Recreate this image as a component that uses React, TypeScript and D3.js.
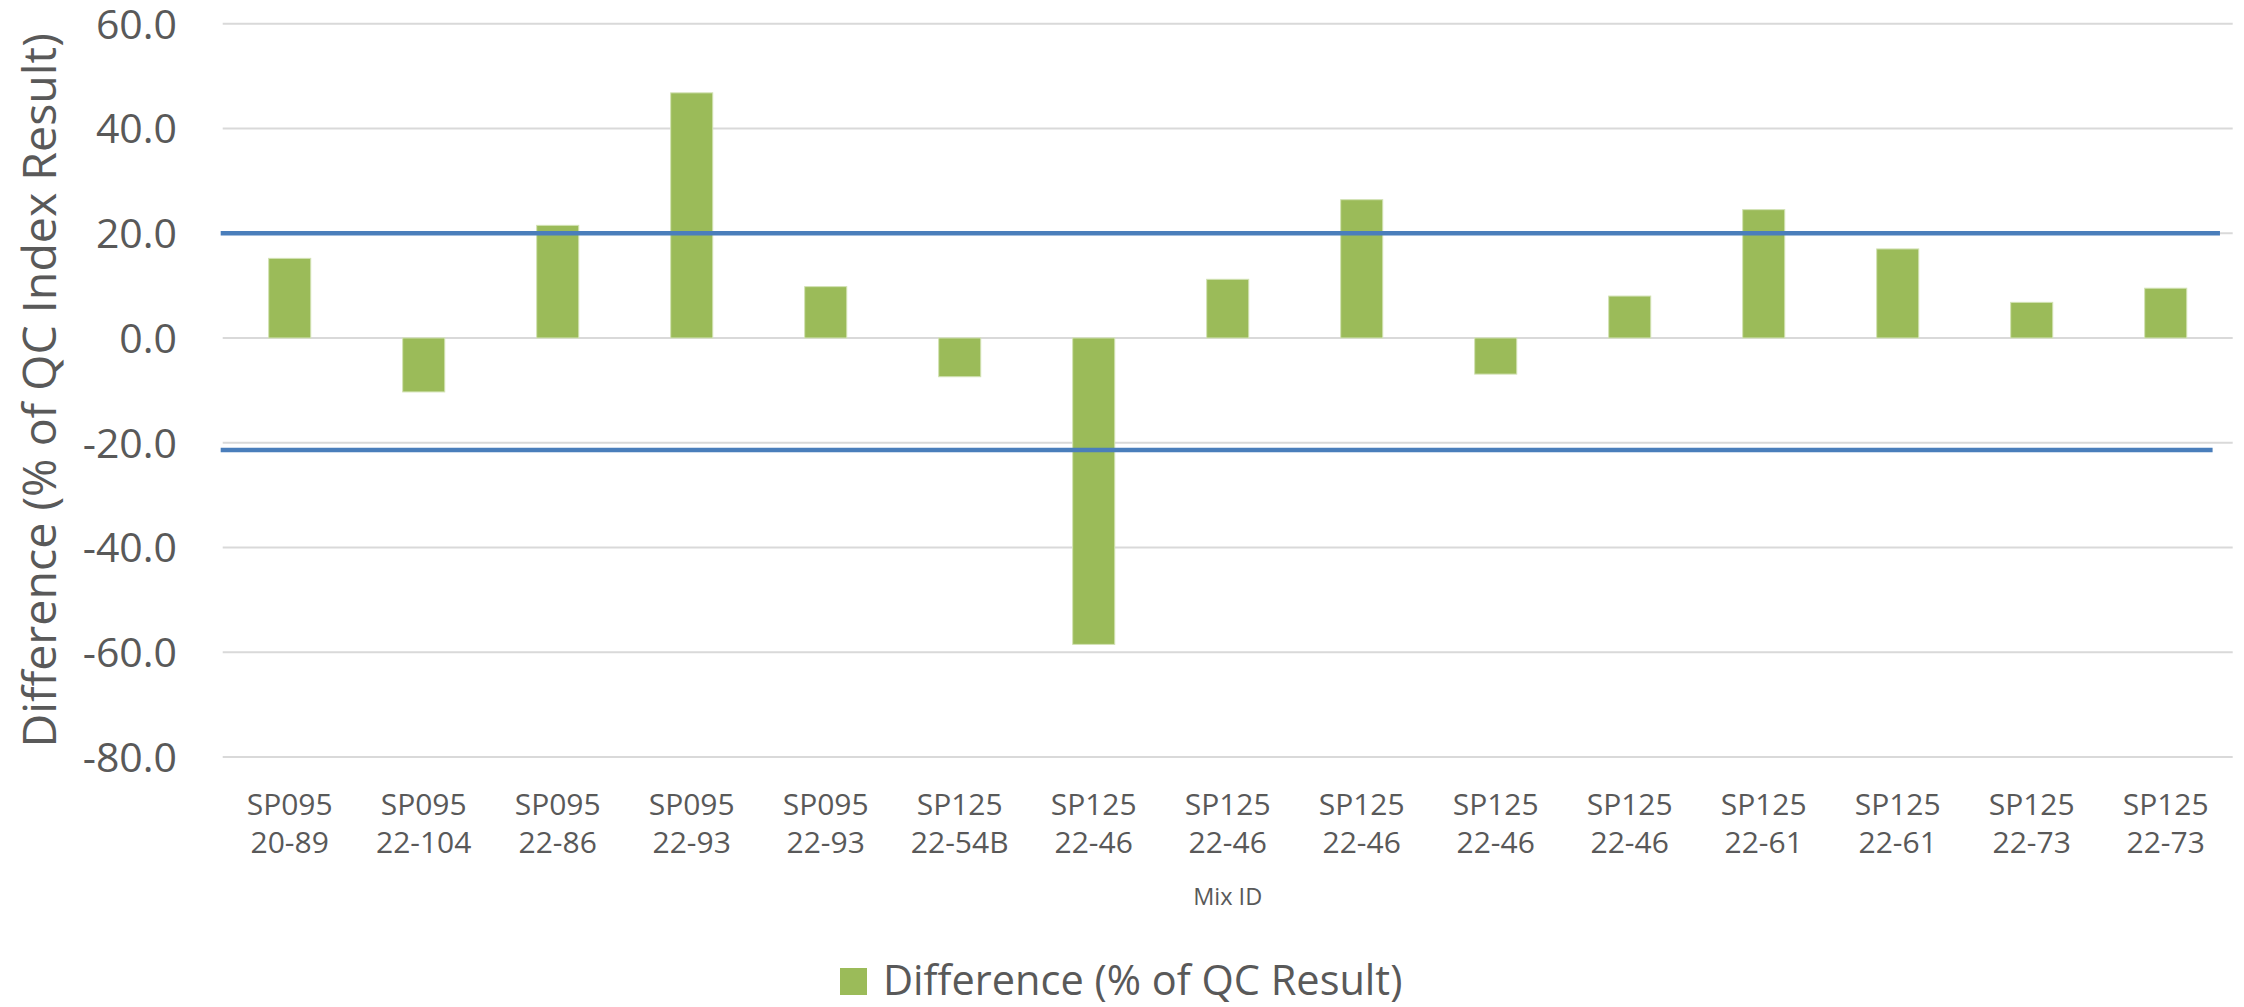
import React from "react";
import * as d3 from "d3";

// Mix identifiers (two-line category labels)
const mixProduct = [
  "SP095", "SP095", "SP095", "SP095", "SP095",
  "SP125", "SP125", "SP125", "SP125", "SP125",
  "SP125", "SP125", "SP125", "SP125", "SP125",
];
const mixBatch = [
  "20-89", "22-104", "22-86", "22-93", "22-93",
  "22-54B", "22-46", "22-46", "22-46", "22-46",
  "22-46", "22-61", "22-61", "22-73", "22-73",
];

// Difference (% of QC result) per mix
const differencePct = [
  15.2, -10.3, 21.5, 46.8, 9.8,
  -7.4, -58.5, 11.2, 26.4, -6.9,
  8.0, 24.5, 17.0, 6.8, 9.5,
];

// Y axis ticks
const yTicks = [-80, -60, -40, -20, 0, 20, 40, 60];

// Acceptance limit lines: value and extent in category units
const limitValues = [20.0, -21.4];
const limitStart = [-0.015, -0.015];
const limitEnd = [14.905, 14.85];

const W = 2244;
const H = 1007;
const FONT = "'Open Sans', 'Liberation Sans', sans-serif";
const TEXT = "#595959";

export default function App() {
  const plotLeft = 222.7;
  const plotRight = 2232.7;
  const plotTop = 23.7;
  const plotBottom = 757;

  const idx = differencePct.map((_, i) => String(i));

  const x = d3
    .scaleBand<string>()
    .domain(idx)
    .range([plotLeft, plotRight])
    .paddingInner(0.686)
    .paddingOuter(0.343);

  const xUnits = d3.scaleLinear().domain([0, differencePct.length]).range([plotLeft, plotRight]);

  const y = d3.scaleLinear().domain([-80, 60]).range([plotBottom, plotTop]);
  const fmt = (v: number) => d3.format(".1f")(v).replace("\u2212", "-");

  const center = (i: number) => (x(String(i)) as number) + x.bandwidth() / 2;

  return (
    <svg
      width={W}
      height={H}
      viewBox={`0 0 ${W} ${H}`}
      style={{ position: "absolute", left: 0, top: 0, background: "#fff" }}
    >
      <rect x={0} y={0} width={W} height={H} fill="#fff" />

      {/* horizontal gridlines */}
      {yTicks.map((t) => (
        <line
          key={`g${t}`}
          x1={plotLeft}
          x2={plotRight}
          y1={y(t)}
          y2={y(t)}
          stroke="#d9d9d9"
          strokeWidth={2}
        />
      ))}

      {/* y tick labels */}
      {yTicks.map((t) => (
        <text
          key={`t${t}`}
          x={177}
          y={y(t) + 14.8}
          textAnchor="end"
          fontFamily={FONT}
          fontSize={41}
          fill={TEXT}
        >
          {fmt(t)}
        </text>
      ))}

      {/* bars */}
      {differencePct.map((v, i) => (
        <rect
          key={`b${i}`}
          x={x(String(i))}
          width={x.bandwidth()}
          y={y(Math.max(0, v))}
          height={Math.abs(y(v) - y(0))}
          fill="#9bbb59"
          stroke="#d2e2b4"
          strokeWidth={1}
        />
      ))}

      {/* limit lines */}
      {limitValues.map((v, i) => (
        <line
          key={`l${i}`}
          x1={xUnits(limitStart[i])}
          x2={xUnits(limitEnd[i])}
          y1={y(v)}
          y2={y(v)}
          stroke="#4a7ebb"
          strokeWidth={4.5}
        />
      ))}

      {/* category labels */}
      {mixProduct.map((p, i) => (
        <text
          key={`c${i}`}
          x={center(i)}
          textAnchor="middle"
          fontFamily={FONT}
          fontSize={30}
          fill={TEXT}
        >
          <tspan x={center(i)} y={815}>{p}</tspan>
          <tspan x={center(i)} y={853}>{mixBatch[i]}</tspan>
        </text>
      ))}

      {/* x axis title */}
      <text
        x={(plotLeft + plotRight) / 2}
        y={905}
        textAnchor="middle"
        fontFamily={FONT}
        fontSize={23.5}
        fill={TEXT}
      >
        Mix ID
      </text>

      {/* y axis title */}
      <text
        transform={`translate(56, ${(plotTop + plotBottom) / 2}) rotate(-90)`}
        textAnchor="middle"
        fontFamily={FONT}
        fontSize={46.5}
        fill={TEXT}
      >
        Difference (% of QC Index Result)
      </text>

      {/* legend */}
      <g transform="translate(840, 968)">
        <rect x={0} y={0} width={27} height={27} fill="#9bbb59" />
        <text x={43} y={27} fontFamily={FONT} fontSize={41.5} fill={TEXT}>
          Difference (% of QC Result)
        </text>
      </g>
    </svg>
  );
}
